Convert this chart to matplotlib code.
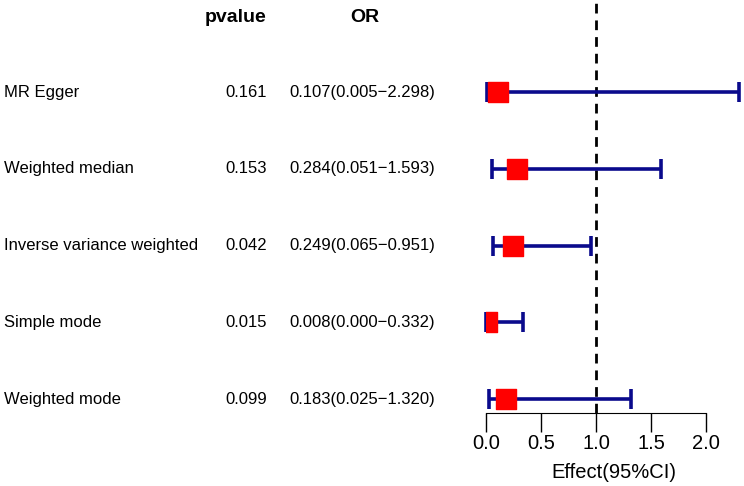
import matplotlib.pyplot as plt
import matplotlib.transforms as mtransforms

plt.rcParams['font.family'] = ['Liberation Sans', 'DejaVu Sans']

# Datos del forest plot
metodos = ['MR Egger', 'Weighted median', 'Inverse variance weighted',
           'Simple mode', 'Weighted mode']
pvalores = ['0.161', '0.153', '0.042', '0.015', '0.099']
or_val = [0.107, 0.284, 0.249, 0.008, 0.183]
or_inf = [0.005, 0.051, 0.065, 0.000, 0.025]
or_sup = [2.298, 1.593, 0.951, 0.332, 1.320]

W, H = 744, 486
fig = plt.figure(figsize=(W / 100, H / 100), dpi=100)
ax = fig.add_axes([486 / W, (H - 413) / H, 255 / W, 413 / H])

n = len(metodos)
ypos = list(range(n, 0, -1))

ax.axvline(1, color='black', ls=(0, (3.5, 2.5)), lw=2, zorder=1)

for y, m, lo, hi in zip(ypos, or_val, or_inf, or_sup):
    ax.errorbar([m], [y], xerr=[[m - lo], [hi - m]], fmt='none',
                ecolor='#0a0a8c', elinewidth=2.6, capsize=7, capthick=2.6,
                zorder=2, clip_on=False)
ax.scatter(or_val, ypos, marker='s', s=195, color='red', zorder=3)

ax.set_xlim(0, 2.318)
ax.set_ylim(0.818, 6.2)
for lado in ['top', 'right', 'left']:
    ax.spines[lado].set_visible(False)
ax.spines['bottom'].set_bounds(0, 2)
ax.set_yticks([])
ax.set_xticks([0, 0.5, 1.0, 1.5, 2.0])
ax.set_xticklabels(['0.0', '0.5', '1.0', '1.5', '2.0'], fontsize=14.5)
ax.tick_params(axis='x', length=14, width=1, pad=1)
ax.set_xlabel('Effect(95%CI)', fontsize=14.5, labelpad=7)

# Tabla a la izquierda
trans = mtransforms.blended_transform_factory(fig.transFigure, ax.transData)
fig.text(236 / W, 1 - 17 / H, 'pvalue', fontsize=14, fontweight='bold',
         ha='center', va='center')
fig.text(365 / W, 1 - 17 / H, 'OR', fontsize=14, fontweight='bold',
         ha='center', va='center')
for y, nombre, p, m, lo, hi in zip(ypos, metodos, pvalores, or_val, or_inf, or_sup):
    fig.text(4 / W, y, nombre, transform=trans, fontsize=12, va='center')
    fig.text(267 / W, y, p, transform=trans, fontsize=12, va='center', ha='right')
    fig.text(289 / W, y, f'{m:.3f}({lo:.3f}\u2212{hi:.3f})', transform=trans,
             fontsize=12, va='center')

fig.savefig('out.png', dpi=100)
